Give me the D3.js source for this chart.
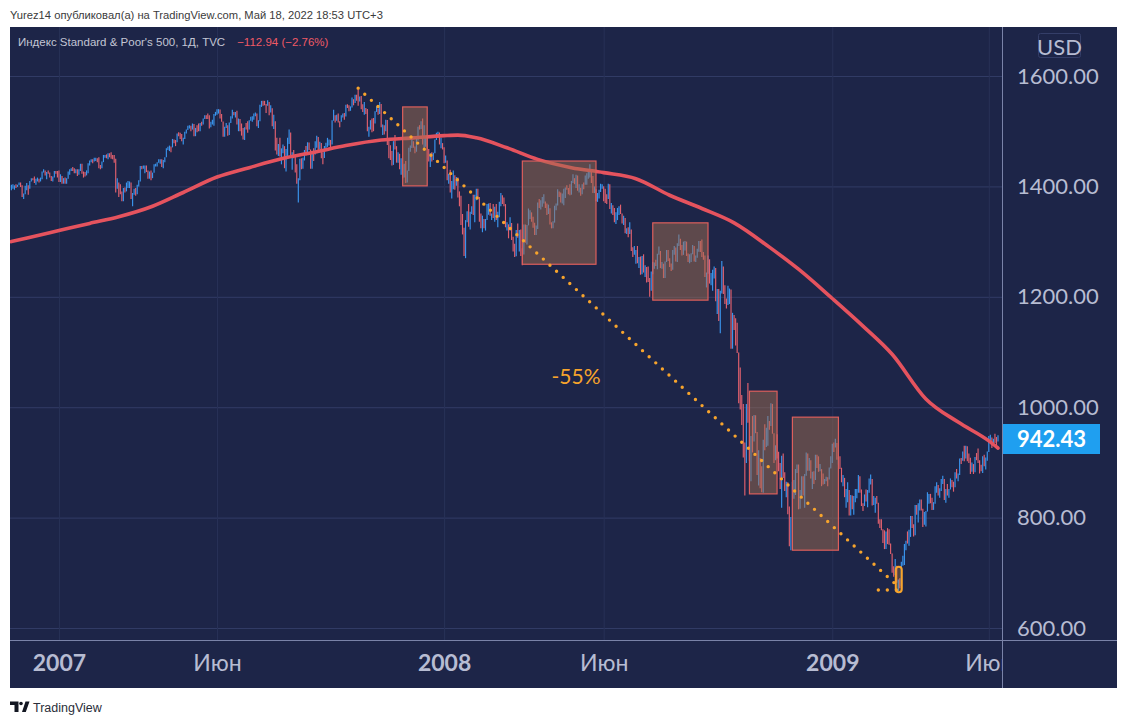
<!DOCTYPE html>
<html><head><meta charset="utf-8">
<script src="https://cdn.jsdelivr.net/npm/d3@7"></script>
<style>
html,body{margin:0;padding:0;background:#fff;}
svg{display:block;}
</style></head><body>
<svg id="chart" width="1128" height="725"></svg>
<script>
// ---------------- DATA ----------------
// S&P 500 daily bars: [high, low, close]; open = previous close
const prevClose = 1393.22;
const bars2006 = [
[1403,1393,1396.57],[1404,1396,1399.76],[1402,1394,1401.20],[1404,1397,1400.50],[1403,1399,1402.81],[1407,1402,1406.09],[1407,1399,1400.95],[1402,1381,1381.96],[1387,1377,1386.72],[1401,1386,1399.48],[1406,1393,1400.63],
[1402,1385,1396.71],[1410,1396,1409.12],[1415,1409,1414.76],[1415,1411,1412.90],[1418,1406,1407.29],[1414,1403,1409.84],[1416,1409,1413.04],[1414,1407,1411.56],[1416,1409,1413.21],[1427,1413,1425.49],[1431,1425,1427.09],[1429,1420,1422.48],[1426,1413,1425.55],[1429,1423,1423.53],[1425,1416,1418.30],[1419,1410,1410.76],[1418,1409,1416.90],[1428,1416,1426.84],[1428,1423,1424.73],[1428,1416,1418.30]
];
const bars2007 = [
[1429,1408,1416.60],[1422,1408,1418.34],[1419,1405,1409.71],[1415,1405,1412.84],[1416,1405,1412.11],[1415,1405,1414.85],[1427,1414,1423.82],[1431,1421,1430.73],[1433,1428,1431.90],[1435,1428,1430.62],[1433,1424,1426.37],[1431,1424,1430.50],[1431,1419,1422.95],[1431,1421,1427.99],[1441,1428,1440.13],[1441,1423,1423.90],[1427,1416,1422.18],[1426,1418,1420.62],[1429,1420,1428.82],[1442,1424,1438.24],
[1447,1438,1445.94],[1449,1444,1448.39],[1449,1442,1446.99],[1452,1445,1448.00],[1452,1446,1450.02],[1451,1444,1448.31],[1453,1433,1438.06],[1439,1431,1433.37],[1445,1433,1444.26],[1457,1444,1455.30],[1457,1452,1456.81],[1458,1451,1455.54],[1460,1449,1459.68],[1460,1453,1457.63],[1462,1450,1456.38],[1457,1449,1451.19],[1457,1443,1449.37],[1450,1389,1399.04],[1415,1396,1406.82],
[1407,1381,1403.17],[1404,1386,1387.17],[1391,1373,1374.12],[1397,1373,1395.41],[1398,1389,1391.97],[1407,1391,1401.89],[1410,1397,1402.84],[1409,1397,1406.60],[1407,1377,1377.95],[1388,1364,1387.17],[1396,1385,1392.28],[1397,1383,1386.95],[1403,1386,1402.06],[1411,1400,1410.94],[1437,1409,1435.04],[1437,1431,1434.54],[1438,1432,1436.11],[1438,1424,1437.50],[1438,1426,1428.61],[1429,1414,1417.23],[1427,1414,1422.53],[1429,1411,1420.86],
[1425,1415,1424.55],[1440,1425,1437.77],[1441,1436,1439.37],[1444,1436,1443.76],[1449,1443,1444.61],[1449,1441,1448.39],[1449,1435,1438.87],[1448,1433,1447.80],[1453,1444,1452.85],[1469,1453,1468.33],[1472,1466,1471.48],[1474,1464,1472.50],[1472,1462,1470.73],[1486,1471,1484.35],[1485,1478,1480.93],[1484,1473,1480.41],[1496,1480,1495.42],[1498,1491,1494.25],[1497,1486,1494.07],[1495,1482,1482.37],
[1488,1476,1486.30],[1499,1486,1495.92],[1503,1496,1502.39],[1510,1502,1505.62],[1511,1505,1509.48],[1510,1500,1507.72],[1514,1503,1512.58],[1513,1491,1491.47],[1506,1491,1505.85],[1511,1498,1503.15],[1514,1500,1501.19],[1515,1500,1514.14],[1517,1510,1512.75],[1523,1512,1522.75],[1529,1522,1525.10],[1529,1522,1524.12],[1532,1522,1522.28],[1529,1505,1507.51],[1517,1507,1515.73],[1521,1512,1518.11],[1531,1510,1530.23],[1535,1528,1530.62],
[1540,1530,1536.34],[1540,1532,1539.18],[1539,1523,1530.95],[1531,1517,1517.38],[1517,1490,1490.72],[1508,1490,1507.67],[1515,1506,1509.12],[1511,1492,1493.00],[1516,1493,1515.67],[1527,1515,1522.97],[1539,1523,1532.91],[1535,1529,1531.05],[1535,1525,1533.70],[1537,1512,1512.84],[1523,1500,1522.19],[1522,1500,1502.56],[1514,1492,1497.74],[1506,1485,1492.89],[1507,1484,1506.34],[1515,1503,1505.71],[1518,1497,1503.35],
[1520,1503,1519.43],[1526,1519,1524.87],[1527,1517,1525.40],[1532,1521,1530.44],[1534,1527,1531.85],[1532,1509,1510.12],[1520,1506,1518.76],[1548,1518,1547.70],[1555,1544,1552.50],[1555,1546,1549.52],[1555,1547,1549.37],[1549,1533,1546.17],[1556,1546,1553.08],[1553,1529,1534.10],[1547,1534,1541.57],[1541,1509,1511.04],[1530,1504,1518.09],[1518,1465,1482.66],[1488,1458,1458.95],[1477,1455,1473.91],[1488,1454,1455.27],
[1469,1440,1465.81],[1476,1460,1472.20],[1473,1433,1433.06],[1468,1427,1467.67],[1488,1455,1476.71],[1503,1477,1497.49],[1497,1453,1453.09],[1462,1430,1453.64],[1466,1451,1452.92],[1457,1425,1426.54],[1440,1405,1406.70],[1415,1371,1411.27],[1450,1411,1445.94],[1451,1431,1445.55],[1452,1432,1447.12],[1466,1447,1464.07],[1473,1456,1462.50],[1480,1460,1479.37],[1479,1466,1466.79],[1467,1432,1432.36],[1464,1432,1463.76],[1469,1446,1457.64],[1482,1458,1473.99],
[1492,1470,1489.42],[1489,1466,1472.29],[1481,1467,1478.55],[1478,1451,1453.55],[1462,1440,1451.70],[1473,1452,1471.49],[1479,1465,1471.56],[1488,1472,1483.95],[1485,1474,1484.25],[1484,1471,1476.65],[1520,1476,1519.78],[1539,1519,1529.03],[1529,1516,1518.75],[1530,1519,1525.75],[1532,1516,1517.73],[1518,1507,1517.21],[1529,1517,1525.42],[1532,1525,1531.38],[1533,1521,1526.75],
[1548,1527,1547.04],[1549,1542,1546.63],[1547,1536,1539.59],[1545,1537,1542.84],[1561,1543,1557.59],[1558,1547,1552.58],[1566,1551,1565.15],[1566,1555,1562.47],[1576,1546,1554.41],[1563,1554,1561.80],[1564,1540,1548.71],[1548,1535,1538.53],[1553,1530,1541.24],[1542,1531,1540.08],[1540,1500,1500.63],[1508,1490,1506.33],[1520,1503,1519.59],[1523,1498,1515.88],[1524,1500,1514.40],[1536,1514,1535.28],[1545,1535,1540.98],[1541,1530,1531.02],[1553,1531,1549.38],
[1549,1507,1508.44],[1512,1493,1509.65],[1511,1494,1502.17],[1521,1500,1520.27],[1520,1475,1475.62],[1483,1451,1474.77],[1474,1448,1453.70],[1464,1438,1439.18],[1482,1439,1481.05],[1493,1467,1470.58],[1473,1443,1451.15],[1462,1443,1458.74],[1459,1431,1433.27],[1451,1421,1439.70],[1439,1415,1416.77],[1441,1416,1440.70],[1446,1406,1407.22],[1429,1407,1428.23],[1470,1428,1469.02],[1474,1463,1469.72],[1488,1470,1481.14],
[1482,1470,1472.42],[1472,1460,1462.79],[1488,1463,1485.01],[1508,1483,1507.34],[1511,1503,1504.66],[1518,1504,1515.96],[1523,1476,1477.65],[1511,1469,1486.59],[1489,1472,1488.41],[1488,1467,1467.95],[1468,1445,1445.90],[1460,1435,1454.98],[1462,1445,1453.00],[1461,1448,1460.12],[1485,1460,1484.46],[1497,1484,1496.45],[1499,1488,1497.66],[1497,1476,1476.27],[1488,1469,1478.49],[1475,1467,1468.36]
];
const bars2008 = [
[1471,1442,1447.16],[1456,1443,1447.16],[1445,1411,1411.63],[1423,1405,1416.18],[1430,1389,1390.19],[1410,1378,1409.13],[1429,1395,1420.33],[1419,1394,1401.02],[1417,1402,1416.25],[1416,1380,1380.95],[1391,1364,1373.20],[1383,1330,1333.25],[1350,1313,1325.19],[1325,1274,1310.50],[1339,1270,1338.60],[1355,1335,1352.07],[1368,1327,1330.61],[1354,1322,1353.96],[1364,1350,1362.30],[1385,1348,1355.81],[1385,1335,1378.55],
[1396,1375,1395.42],[1396,1380,1380.82],[1380,1336,1336.64],[1351,1324,1326.45],[1347,1317,1336.91],[1341,1324,1331.29],[1341,1320,1339.13],[1368,1339,1348.86],[1369,1350,1367.21],[1370,1347,1348.86],[1351,1339,1349.99],[1368,1343,1348.78],[1363,1336,1360.03],[1368,1339,1342.53],[1354,1326,1353.11],[1372,1344,1371.80],[1388,1364,1381.29],[1384,1368,1380.02],[1380,1364,1367.68],[1368,1326,1330.63],
[1335,1320,1331.34],[1331,1306,1326.75],[1344,1320,1333.70],[1333,1303,1304.34],[1309,1282,1293.37],[1296,1272,1273.37],[1321,1274,1320.65],[1333,1307,1308.77],[1321,1282,1315.48],[1322,1274,1288.14],[1287,1257,1276.60],[1331,1277,1330.74],[1331,1298,1298.42],[1330,1295,1329.51],[1360,1330,1349.88],[1357,1341,1352.99],[1352,1336,1341.13],[1345,1325,1325.76],[1334,1312,1315.22],[1329,1312,1322.70],
[1371,1326,1370.18],[1377,1361,1367.53],[1375,1358,1369.31],[1381,1363,1370.40],[1386,1369,1372.54],[1372,1361,1365.54],[1369,1348,1354.49],[1367,1350,1360.55],[1360,1331,1332.83],[1335,1324,1328.32],[1337,1324,1334.43],[1365,1335,1364.71],[1369,1357,1365.56],[1395,1366,1390.33],[1391,1381,1388.17],[1389,1371,1375.94],[1387,1369,1379.93],[1396,1366,1388.82],[1398,1379,1397.84],[1402,1394,1396.37],[1397,1386,1390.94],[1404,1384,1385.59],
[1410,1385,1409.34],[1422,1406,1413.90],[1415,1404,1407.49],[1421,1397,1418.26],[1420,1392,1392.57],[1404,1389,1397.68],[1397,1383,1388.28],[1404,1386,1403.58],[1407,1395,1403.04],[1420,1403,1408.66],[1424,1403,1423.57],[1426,1414,1425.35],[1440,1416,1426.63],[1427,1406,1413.40],[1419,1388,1390.71],[1400,1388,1394.35],[1395,1373,1375.93],[1388,1372,1385.35],[1394,1378,1390.84],[1405,1390,1398.26],[1404,1396,1400.38],
[1400,1373,1385.67],[1396,1370,1377.65],[1386,1368,1377.20],[1405,1377,1404.05],[1404,1359,1360.68],[1370,1351,1361.76],[1366,1348,1358.44],[1361,1335,1335.49],[1353,1332,1339.87],[1361,1339,1360.03],[1364,1348,1360.14],[1367,1350,1350.93],[1351,1333,1337.81],[1347,1330,1342.83],[1342,1315,1317.93],[1324,1314,1318.00],[1326,1308,1314.29],[1335,1314,1321.97],[1322,1283,1283.15],[1290,1272,1278.38],[1292,1276,1280.00],
[1285,1260,1284.91],[1292,1261,1261.52],[1272,1252,1262.90],[1273,1240,1252.31],[1274,1241,1273.70],[1277,1244,1244.69],[1257,1236,1253.39],[1254,1226,1239.49],[1255,1227,1228.30],[1234,1200,1214.91],[1246,1211,1245.36],[1263,1241,1260.32],[1262,1251,1260.68],[1267,1256,1260.00],[1278,1250,1277.00],[1291,1276,1282.19],[1283,1252,1252.54],[1263,1251,1257.76],[1260,1234,1234.37],[1264,1234,1263.20],[1285,1263,1284.26],[1285,1265,1267.38],
[1270,1254,1260.31],[1260,1247,1249.01],[1285,1249,1284.88],[1292,1276,1289.19],[1289,1264,1266.07],[1297,1263,1296.32],[1313,1292,1305.32],[1304,1285,1289.59],[1294,1275,1285.83],[1300,1276,1292.93],[1301,1284,1298.20],[1300,1274,1278.60],[1278,1263,1266.69],[1277,1261,1274.54],[1279,1263,1277.72],[1294,1277,1292.20],[1292,1264,1266.84],[1275,1263,1271.51],[1287,1271,1281.66],[1301,1282,1300.68],[1301,1281,1282.83],
[1304,1272,1277.58],[1281,1267,1274.98],[1275,1236,1236.83],[1244,1217,1242.31],[1275,1242,1267.79],[1268,1224,1224.51],[1243,1221,1232.04],[1249,1211,1249.05],[1255,1233,1251.70],[1252,1192,1192.70],[1214,1169,1213.60],[1214,1156,1156.39],[1211,1134,1206.51],[1265,1206,1255.08],[1255,1205,1207.09],[1221,1187,1188.22],[1197,1179,1185.87],[1220,1185,1209.18],[1215,1187,1213.27],[1213,1106,1106.39],[1171,1106,1166.36],
[1167,1140,1161.06],[1161,1112,1114.28],[1153,1098,1099.23],[1099,1007,1056.89],[1072,996,996.23],[1022,968,984.94],[1006,909,909.92],[936,840,899.22],[1006,899,1003.35],[1044,972,998.01],[998,903,907.84],[948,866,946.43],[984,918,940.55],[986,938,985.40],[985,953,955.05],[955,877,896.78],[922,858,908.11],[908,853,876.77],[893,846,848.92],[941,845,940.51],[969,922,930.09],[963,928,954.09],[984,930,968.75],
[975,959,966.30],[1007,966,1005.75],[1006,952,952.77],[952,899,904.88],[931,904,930.99],[951,907,919.21],[919,884,898.95],[899,852,852.30],[912,818,911.29],[916,872,873.29],[882,848,850.75],[865,837,859.12],[864,806,806.58],[820,748,752.44],[801,741,800.03],[865,800,851.81],[868,834,857.39],[888,841,887.68],[896,881,896.24],
[896,815,816.21],[850,816,848.81],[875,836,870.74],[875,840,845.22],[879,818,876.07],[918,876,909.70],[916,885,888.67],[908,885,899.24],[904,871,873.59],[883,852,879.73],[884,861,868.57],[914,868,913.18],[914,890,904.42],[911,883,885.28],[897,884,887.88],[887,857,871.63],[880,860,863.16],[870,861,868.15],[874,866,872.80],[873,857,869.42],[891,869,890.64],[911,889,903.25]
];
const bars2009 = [
[934,899,931.80],[936,919,927.45],[943,927,934.70],[935,905,906.65],[910,896,909.73],[911,888,890.35],[890,864,870.26],[877,857,871.79],[872,837,842.62],[852,818,843.74],[864,828,850.12],[850,804,805.22],[841,804,840.24],[840,815,827.50],[839,805,831.95],[852,828,836.57],[852,835,845.71],[877,845,874.09],[875,845,845.14],[851,821,825.88],
[826,812,825.44],[842,821,838.51],[851,829,832.23],[850,819,845.85],[871,845,868.60],[878,860,869.89],[870,822,827.16],[839,823,833.74],[836,809,835.19],[839,825,826.84],[818,789,789.17],[797,781,788.42],[797,777,778.94],[778,754,770.05],[777,743,743.33],[775,743,773.14],[781,752,764.90],[779,751,752.83],[753,734,735.09],
[735,700,700.82],[712,693,696.33],[725,696,712.87],[713,682,682.55],[688,667,683.38],[690,672,676.53],[720,676,719.60],[731,713,721.36],[752,714,750.74],[758,741,756.55],[775,753,753.89],[778,749,778.12],[803,765,794.35],[803,781,784.04],[788,766,768.54],[823,768,822.92],[823,805,806.12],[826,791,813.88],[833,813,832.86],[833,813,815.94],[816,783,787.53],[810,787,797.87],
[812,784,811.08],[846,811,834.38],[843,825,842.50],[843,826,835.48],[836,814,815.55],[828,814,825.16],[857,825,856.56],[864,845,858.73],[859,840,841.50],[853,836,852.06],[870,848,865.30],[876,861,869.60],[870,832,832.39],[852,827,850.08],[861,840,843.55],[852,836,851.92],[871,851,866.23],[868,855,857.51],[865,847,855.16],[882,855,873.64],[888,871,872.81],
[880,866,877.52],[907,877,907.24],[908,897,903.80],[920,903,919.53],[930,902,907.39],[930,907,929.23],[929,902,909.24],[916,899,908.35],[908,879,883.92],[900,883,893.07],[897,879,882.88],[910,882,909.71],[917,904,908.13],[925,899,903.47],[904,880,888.33],[896,884,887.00],[911,881,910.33],[914,893,893.06],[909,887,906.83],[920,903,919.14],
[948,919,942.87],[950,938,944.74],[945,926,931.76],[943,930,942.46],[952,935,940.09],[946,927,939.14],[949,938,942.43]
];
const startDate = "2006-11-15";
const holidays = ["2006-11-23","2006-12-25","2007-01-01","2007-01-02","2007-01-15","2007-02-19","2007-04-06","2007-05-28","2007-07-04","2007-09-03","2007-11-22","2007-12-25","2008-01-01","2008-01-21","2008-02-18","2008-03-21","2008-05-26","2008-07-04","2008-09-01","2008-11-27","2008-12-25","2009-01-01","2009-01-19","2009-02-16","2009-04-10","2009-05-25"];

// 200-day moving average
const maDates = ["2006-11-15","2006-12-01","2007-01-03","2007-02-01","2007-03-01","2007-04-02","2007-05-01","2007-06-01","2007-07-02","2007-08-01","2007-09-04","2007-10-01","2007-11-01","2007-12-03","2008-01-02","2008-01-15","2008-02-01","2008-03-03","2008-04-01","2008-05-01","2008-06-02","2008-07-01","2008-08-01","2008-09-02","2008-10-01","2008-11-03","2008-12-01","2009-01-02","2009-02-02","2009-03-02","2009-04-01","2009-05-01","2009-06-01","2009-06-09"];
const maValues = [1300,1307,1320,1333,1345,1364,1389,1417,1434,1450,1463,1474,1484,1488,1492,1493,1488,1470,1449,1434,1425,1414,1384,1360,1334,1290,1250,1197,1147,1096,1015,973,939,926];

// axis ticks
const priceTicks = [600,800,1000,1200,1400,1600];
const timeTickMonths = ["2007-01","2007-06","2008-01","2008-06","2009-01","2009-06"];
const timeTickLabels = ["2007","Июн","2008","Июн","2009","Июн"];

// drawings on the chart
const boxStarts  = ["2007-11-21","2008-03-17","2008-07-17","2008-10-15","2008-11-24"];
const boxEnds    = ["2007-12-14","2008-05-23","2008-09-08","2008-11-10","2009-01-08"];
const boxTops    = [1544,1446,1334,1029,982];
const boxBottoms = [1401,1259,1194,843,741];
const trendDates  = ["2007-10-11","2009-03-04"];
const trendPrices = [1578,680];
const floorDates  = ["2009-02-17","2009-03-06"];
const floorPrices = [669,669];
const lowMarkDate = "2009-03-06";
const lowMarkPrices = [711,665];
const dropLabel = "-55%";
const dropLabelDate = "2008-05-06";
const dropLabelPrice = 1058;

const headerText = "Yurez14 опубликовал(а) на TradingView.com, Май 18, 2022 18:53 UTC+3";
const legendTitle = "Индекс Standard & Poor's 500, 1Д, TVC";
const legendChange = "−112.94 (−2.76%)";
const currency = "USD";

// ---------------- BUILD ----------------
const allBars = [...bars2006, ...bars2007, ...bars2008, ...bars2009];
const fmt = d3.utcFormat("%Y-%m-%d");
const dates = [];
for (let d = new Date(startDate + "T00:00:00Z"); dates.length < allBars.length; d = new Date(d.getTime() + 864e5)) {
  const wd = d.getUTCDay();
  const s = fmt(d);
  if (wd === 0 || wd === 6 || holidays.includes(s)) continue;
  dates.push(s);
}
const idxOf = new Map(dates.map((d, i) => [d, i]));
const data = allBars.map((b, i) => ({
  i, date: dates[i], high: b[0], low: b[1], close: b[2],
  open: i ? allBars[i - 1][2] : prevClose
}));

const pane = {x0: 10, x1: 1002, y0: 27, y1: 640};
const frame = {x0: 10, x1: 1117, y0: 27, y1: 688};
const x = d3.scaleLinear().domain([-0.9, data.length + 1.6]).range([pane.x0, pane.x1]);
const y = d3.scaleLinear().domain([578.3, 1688.8]).range([pane.y1, pane.y0]);
const xd = s => x(idxOf.get(s));

const C = {
  bg: "#1d2548", gridH: "#323c66", gridV: "#283157", sep: "#7a83a8",
  up: "#3a95ee", down: "#e2616f", ma: "#e5535e", axisText: "#b7bcd2",
  orange: "#f7a42c", boxStroke: "#dd5f5c", boxFill: "rgba(160,110,80,0.5)",
  lastBg: "#1f9ff0"
};

const svg = d3.select("#chart");
const defs = svg.append("defs");
defs.append("clipPath").attr("id", "paneClip").append("rect")
  .attr("x", pane.x0).attr("y", pane.y0).attr("width", pane.x1 - pane.x0).attr("height", pane.y1 - pane.y0);
defs.append("clipPath").attr("id", "timeClip").append("rect")
  .attr("x", pane.x0).attr("y", pane.y1).attr("width", pane.x1 - pane.x0).attr("height", frame.y1 - pane.y1);

// header
svg.append("text").attr("x", 10).attr("y", 18.5)
  .attr("font-family", "Liberation Sans, Arial, sans-serif").attr("font-size", 11.2).attr("fill", "#3b3b3b")
  .text(headerText);

// background
svg.append("rect").attr("x", frame.x0).attr("y", frame.y0)
  .attr("width", frame.x1 - frame.x0).attr("height", frame.y1 - frame.y0).attr("fill", C.bg);

// gridlines
const tickIdx = timeTickMonths.map(m => dates.findIndex(d => d.startsWith(m)));
const grid = svg.append("g").attr("clip-path", "url(#paneClip)");
grid.append("g").attr("transform", `translate(${pane.x0},0)`)
  .call(d3.axisLeft(y).tickValues(priceTicks).tickSize(-(pane.x1 - pane.x0)).tickFormat(""))
  .call(g => { g.select(".domain").remove(); g.selectAll("line").attr("stroke", C.gridH); });
grid.append("g").attr("transform", `translate(0,${pane.y1})`)
  .call(d3.axisBottom(x).tickValues(tickIdx).tickSize(-(pane.y1 - pane.y0)).tickFormat(""))
  .call(g => { g.select(".domain").remove(); g.selectAll("line").attr("stroke", C.gridV); });

// price bars
const plot = svg.append("g").attr("clip-path", "url(#paneClip)");
plot.append("g").selectAll("line").data(data).join("line")
  .attr("x1", d => x(d.i)).attr("x2", d => x(d.i))
  .attr("y1", d => y(Math.max(d.high, d.open, d.close)))
  .attr("y2", d => y(Math.min(d.low, d.open, d.close)))
  .attr("stroke", d => d.close >= d.open ? C.up : C.down)
  .attr("stroke-width", 1.15);

// moving average
const maPts = maDates.map((d, k) => [xd(d), y(maValues[k])]);
plot.append("path").attr("d", d3.line().curve(d3.curveMonotoneX)(maPts))
  .attr("fill", "none").attr("stroke", C.ma).attr("stroke-width", 3.6).attr("stroke-linecap", "round");

// boxes
plot.append("g").selectAll("rect").data(boxStarts).join("rect")
  .attr("x", (d, k) => xd(d))
  .attr("y", (d, k) => y(boxTops[k]))
  .attr("width", (d, k) => xd(boxEnds[k]) - xd(d))
  .attr("height", (d, k) => y(boxBottoms[k]) - y(boxTops[k]))
  .attr("fill", C.boxFill).attr("stroke", C.boxStroke).attr("stroke-width", 1.2);

// dotted trend lines
const dotted = (ds, ps) => plot.append("path")
  .attr("d", d3.line()(ds.map((d, k) => [xd(d), y(ps[k])])))
  .attr("fill", "none").attr("stroke", C.orange).attr("stroke-width", 3.4)
  .attr("stroke-linecap", "round").attr("stroke-dasharray", "0 9");
dotted(trendDates, trendPrices);
dotted(floorDates, floorPrices);

// low marker
plot.append("rect")
  .attr("x", xd(lowMarkDate) - 2.5).attr("y", y(lowMarkPrices[0]))
  .attr("width", 6).attr("height", y(lowMarkPrices[1]) - y(lowMarkPrices[0]))
  .attr("rx", 3).attr("fill", "rgba(245,165,48,0.25)").attr("stroke", C.orange).attr("stroke-width", 2);

// -55% label
plot.append("text").attr("x", xd(dropLabelDate)).attr("y", y(dropLabelPrice))
  .attr("text-anchor", "middle").attr("dominant-baseline", "central")
  .attr("font-family", "Lato, sans-serif").attr("font-size", 21).attr("fill", C.orange)
  .text(dropLabel);

// legend
const leg = svg.append("text").attr("x", 18).attr("y", 46)
  .attr("font-family", "Liberation Sans, Arial, sans-serif").attr("font-size", 11.5);
leg.append("tspan").attr("fill", "#c3c6d4").text(legendTitle);
leg.append("tspan").attr("fill", "#ef5a66").attr("dx", 12).text(legendChange);

// separators
svg.append("line").attr("x1", frame.x0).attr("x2", frame.x1).attr("y1", pane.y1 + 0.5).attr("y2", pane.y1 + 0.5)
  .attr("stroke", C.sep).attr("stroke-width", 1);
svg.append("line").attr("x1", pane.x1 + 0.5).attr("x2", pane.x1 + 0.5).attr("y1", frame.y0).attr("y2", frame.y1)
  .attr("stroke", C.sep).attr("stroke-width", 1);

// price axis
svg.append("g").attr("transform", `translate(${pane.x1},0)`)
  .call(d3.axisRight(y).tickValues(priceTicks).tickSize(0).tickPadding(15).tickFormat(d3.format(".2f")))
  .call(g => {
    g.select(".domain").remove();
    g.selectAll("text").attr("font-family", "Lato, sans-serif").attr("font-size", 22).attr("fill", C.axisText);
  });

// currency box
svg.append("rect").attr("x", 1038.5).attr("y", 33.5).attr("width", 42).attr("height", 24).attr("rx", 2)
  .attr("fill", "none").attr("stroke", "#343e68");
svg.append("text").attr("x", 1059.5).attr("y", 46).attr("text-anchor", "middle").attr("dominant-baseline", "central")
  .attr("font-family", "Lato, sans-serif").attr("font-size", 22).attr("fill", C.axisText).text(currency);

// last price label
const last = data[data.length - 1];
svg.append("rect").attr("x", pane.x1 + 1).attr("y", y(last.close) - 15).attr("width", 97).attr("height", 30)
  .attr("fill", C.lastBg);
svg.append("text").attr("x", pane.x1 + 15).attr("y", y(last.close)).attr("dominant-baseline", "central")
  .attr("font-family", "Lato, sans-serif").attr("font-size", 22).attr("font-weight", 700).attr("fill", "#ffffff")
  .text(d3.format(".2f")(last.close));

// time axis (clip applied on an untranslated wrapper)
svg.append("g").attr("clip-path", "url(#timeClip)")
  .append("g").attr("transform", `translate(0,${pane.y1})`)
  .call(d3.axisBottom(x).tickValues(tickIdx).tickSize(0).tickPadding(15).tickFormat((d, k) => timeTickLabels[k]))
  .call(g => {
    g.select(".domain").remove();
    g.selectAll("text").attr("font-family", "Lato, sans-serif").attr("font-size", 23).attr("fill", C.axisText)
      .attr("font-weight", (d, k) => /^\d{4}$/.test(timeTickLabels[k]) ? 700 : 400);
  });

// footer logo + text
const logo = svg.append("g").attr("fill", "#131722");
logo.append("path").attr("d", "M10,701.5 H18.5 V712 H14.5 V705 H10 Z");
logo.append("circle").attr("cx", 21).attr("cy", 703.5).attr("r", 1.8);
logo.append("path").attr("d", "M22,712 L25.5,701.5 H29.5 L25.8,712 Z");
svg.append("text").attr("x", 33).attr("y", 712)
  .attr("font-family", "Liberation Sans, Arial, sans-serif").attr("font-size", 12.5).attr("fill", "#2a2e39")
  .text("TradingView");
</script>
</body></html>
